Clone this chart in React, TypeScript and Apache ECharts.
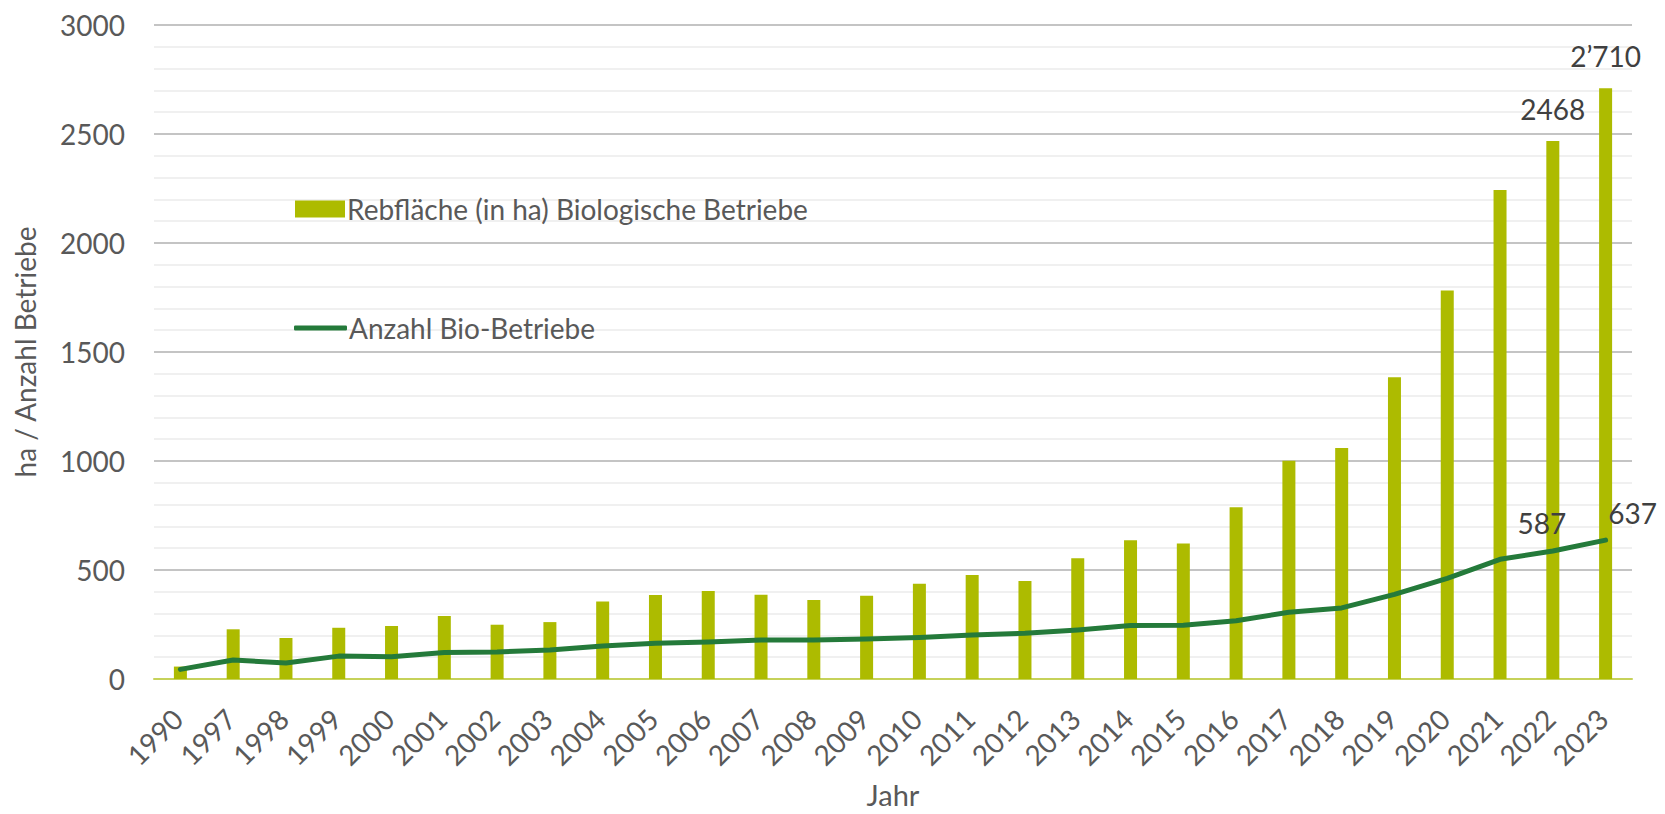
import React, { useEffect, useRef } from "react";
import * as echarts from "echarts";

const years = ["1990","1997","1998","1999","2000","2001","2002","2003","2004","2005","2006","2007","2008","2009","2010","2011","2012","2013","2014","2015","2016","2017","2018","2019","2020","2021","2022","2023"];
const rebflaeche = [57,228,188,235,243,289,249,261,356,385,404,387,362,382,437,477,450,554,636,622,788,1001,1060,1384,1782,2243,2468,2710];
const betriebe = [44,87,73,105,102,122,124,133,151,164,170,179,179,183,190,202,210,225,245,247,267,306,326,388,462,549,587,637];
const barLabels: Record<string, string> = { "2022": "2468", "2023": "2\u2019710" };
const lineLabels: Record<string, { text: string; dx: number; dy: number }> = {
  "2022": { text: "587", dx: -11, dy: -28 },
  "2023": { text: "637", dx: 27, dy: -27 },
};
const yTicks = [0, 500, 1000, 1500, 2000, 2500, 3000];

const FONT = "Lato, 'Noto Sans', sans-serif";
const TXT = "#595959";
const BAR = "#adbb00";
const LINE = "#247a3a";

export default function App() {
  const ref = useRef<HTMLDivElement>(null);
  useEffect(() => {
    if (!ref.current) return;
    const chart = echarts.init(ref.current, undefined, { renderer: "svg" });
    const barData = rebflaeche.map((v, i) => {
      const lab = barLabels[years[i]];
      return lab
        ? { value: v, label: { show: true, position: "top", distance: 18, formatter: lab, color: "#404040", fontSize: 28, fontFamily: FONT } }
        : { value: v };
    });
    chart.setOption({
      animation: false,
      textStyle: { fontFamily: FONT },
      grid: { left: 154, right: 33, top: 25, bottom: 135, containLabel: false, outerBoundsMode: "none" },
      legend: [
        {
          data: [{ name: "Rebfläche (in ha) Biologische Betriebe", icon: "rect" }],
          left: 290, top: 190, orient: "vertical",
          itemWidth: 50, itemHeight: 17, itemGap: 0,
          textStyle: { color: TXT, fontSize: 28, fontFamily: FONT, padding: [0, 0, 0, -3] },
          selectedMode: false,
        },
        {
          data: [{ name: "Anzahl Bio-Betriebe", icon: "roundRect" }],
          left: 289, top: 309, orient: "vertical",
          itemWidth: 53, itemHeight: 5, itemGap: 0,
          textStyle: { color: TXT, fontSize: 28, fontFamily: FONT, padding: [0, 0, 0, -3] },
          selectedMode: false,
        },
      ],
      xAxis: {
        type: "category",
        data: years,
        boundaryGap: true,
        name: "Jahr",
        nameLocation: "middle",
        nameGap: 101,
        nameTextStyle: { color: TXT, fontSize: 29, fontFamily: FONT, lineHeight: 29 },
        axisLine: { show: true, lineStyle: { color: "#c6d25a", width: 2 } },
        axisTick: { show: false },
        axisLabel: { rotate: 45, fontSize: 28, color: TXT, margin: 32, padding: [0, 4, 0, 0], fontFamily: FONT, interval: 0 },
      },
      yAxis: {
        type: "value",
        min: yTicks[0],
        max: yTicks[yTicks.length - 1],
        interval: 500,
        name: "ha / Anzahl Betriebe",
        nameLocation: "middle",
        nameGap: 115,
        nameTextStyle: { color: TXT, fontSize: 28, fontFamily: FONT },
        axisLine: { show: false },
        axisTick: { show: false },
        axisLabel: { fontSize: 28, color: TXT, margin: 29, fontFamily: FONT, formatter: (v: number) => String(v) },
        splitLine: { show: true, lineStyle: { color: "#c4c4c4", width: 2 } },
        minorTick: { show: false, splitNumber: 5 },
        minorSplitLine: { show: true, lineStyle: { color: "#f0f0f0", width: 2 } },
      },
      series: [
        {
          name: "Rebfläche (in ha) Biologische Betriebe",
          type: "bar",
          data: barData,
          barWidth: 13,
          itemStyle: { color: BAR },
          z: 2,
        },
        {
          name: "Anzahl Bio-Betriebe",
          type: "line",
          data: betriebe,
          symbol: "none",
          itemStyle: { color: LINE },
          lineStyle: { color: LINE, width: 5, cap: "round", join: "round" },
          z: 3,
        },
      ],
    });
    const texts: any[] = [];
    years.forEach((y, i) => {
      const lab = lineLabels[y];
      if (!lab) return;
      const p = chart.convertToPixel({ seriesIndex: 1 }, [i, betriebe[i]]) as number[];
      texts.push({
        type: "text",
        x: p[0] + lab.dx,
        y: p[1] + lab.dy,
        z: 10,
        style: { text: lab.text, fill: "#404040", fontSize: 28, fontFamily: FONT, textAlign: "center", textVerticalAlign: "middle" },
      });
    });
    chart.setOption({ graphic: texts });
    return () => chart.dispose();
  }, []);
  return <div ref={ref} style={{ width: 1665, height: 814, position: "absolute", left: 0, top: 0 }} />;
}
